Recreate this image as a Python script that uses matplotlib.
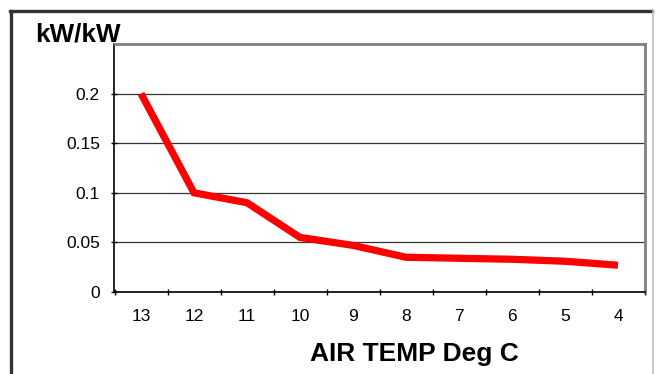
import numpy as np
import matplotlib
matplotlib.use("Agg")
import matplotlib.pyplot as plt
from matplotlib.lines import Line2D

# data
air_temp = ["13", "12", "11", "10", "9", "8", "7", "6", "5", "4"]
kw_per_kw = [0.2, 0.1, 0.09, 0.055, 0.047, 0.035, 0.034, 0.033, 0.031, 0.027]
y_ticks = [0, 0.05, 0.1, 0.15, 0.2]
y_tick_labels = ["0", "0.05", "0.1", "0.15", "0.2"]

plt.rcParams['font.family'] = ['Liberation Sans', 'DejaVu Sans']

W, H = 656, 374
fig = plt.figure(figsize=(W / 100, H / 100), dpi=100)

# plot area in pixels
left, right, top, bottom = 114.5, 644.5, 44, 292
ax = fig.add_axes([left / W, 1 - bottom / H, (right - left) / W, (bottom - top) / H])

x = np.arange(len(air_temp))
ax.plot(x, kw_per_kw, color="#ff0000", lw=5.2, solid_joinstyle="miter", solid_capstyle="butt", zorder=3)

ax.set_xlim(-0.5, len(air_temp) - 0.5)
ax.set_ylim(0, 0.25)

ax.set_yticks(y_ticks)
ax.set_yticklabels(y_tick_labels, fontsize=12.5)
ax.yaxis.grid(True, color="#333333", lw=0.9)
ax.set_axisbelow(True)

# ticks between categories, labels centered on categories
ax.set_xticks(np.append(x - 0.5, len(air_temp) - 0.5))
ax.set_xticklabels([""] * (len(air_temp) + 1))
ax.set_xticks(x, minor=True)
ax.set_xticklabels(air_temp, minor=True, fontsize=12.5)
ax.tick_params(axis="x", which="minor", length=0, pad=12)
ax.tick_params(axis="x", which="major", length=5, direction="inout", width=1)
ax.tick_params(axis="y", length=5, direction="inout", width=1, pad=8)

for s in ["left", "bottom"]:
    ax.spines[s].set_color("black")
    ax.spines[s].set_linewidth(1.2)
for s in ["top", "right"]:
    ax.spines[s].set_color("#808080")
    ax.spines[s].set_linewidth(2)

fig.text(35 / W, 1 - 35 / H, "kW/kW", fontsize=18.7, fontweight="bold", va="center", ha="left")
fig.text(414 / W, 1 - 354 / H, "AIR TEMP Deg C", fontsize=19, fontweight="bold", va="center", ha="center")

# outer chart frame
fig.add_artist(Line2D([10.5 / W, 10.5 / W], [0, 1 - 10.5 / H], color="#333333", lw=2.4, transform=fig.transFigure))
fig.add_artist(Line2D([9.5 / W, 652 / W], [1 - 10.5 / H, 1 - 10.5 / H], color="#333333", lw=2.4, transform=fig.transFigure))
fig.add_artist(Line2D([652.5 / W, 652.5 / W], [0, 1 - 10.5 / H], color="#c0c0c0", lw=1.2, transform=fig.transFigure))

fig.savefig("out.png", dpi=100)
